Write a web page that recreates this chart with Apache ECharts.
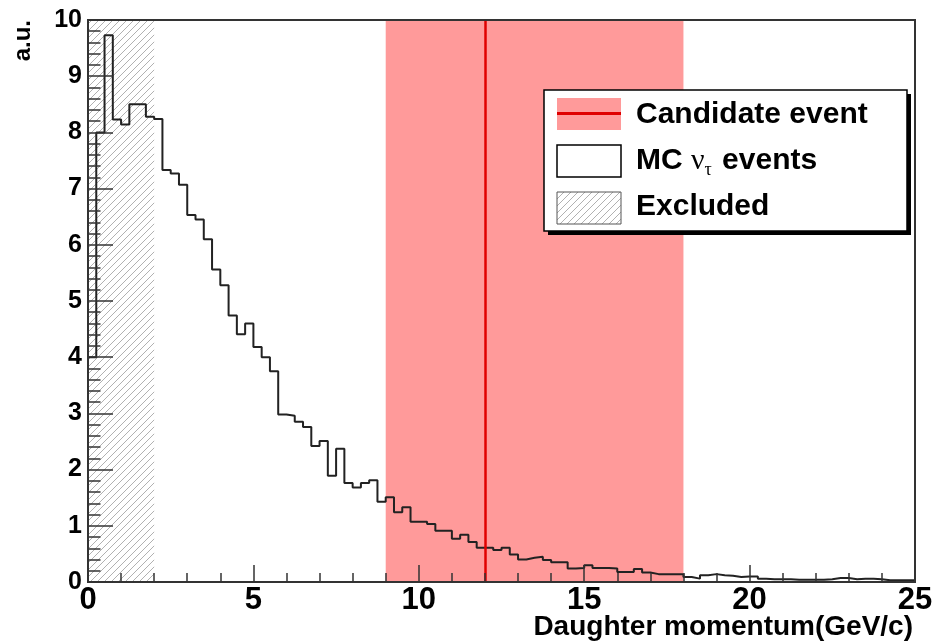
<!DOCTYPE html>
<html><head><meta charset="utf-8">
<script src="https://cdn.jsdelivr.net/npm/echarts@6/dist/echarts.min.js"></script>
<style>html,body{margin:0;padding:0;background:#fff}#c{width:937px;height:643px}</style>
</head><body><div id="c"></div>
<script>
// ---- data ----
const binStart = 0;
const binWidth = 0.25;
const mcCounts = [
  4.0, 8.0, 9.73, 8.23, 8.14, 8.5, 8.5, 8.28, 8.24, 7.33, 7.27, 7.07, 6.53, 6.45, 6.1, 5.56, 5.28, 4.74, 4.41, 4.6,
  4.18, 4.0, 3.75, 2.98, 2.96, 2.85, 2.76, 2.42, 2.51, 1.89, 2.37, 1.76, 1.68, 1.76, 1.81, 1.43, 1.51, 1.24, 1.33, 1.07,
  1.07, 1.03, 0.91, 0.91, 0.77, 0.84, 0.71, 0.61, 0.61, 0.57, 0.61, 0.49, 0.40, 0.43, 0.45, 0.39, 0.35, 0.35, 0.24, 0.25,
  0.30, 0.25, 0.25, 0.24, 0.18, 0.18, 0.23, 0.17, 0.14, 0.14, 0.14, 0.14, 0.09, 0.06, 0.12, 0.14, 0.12, 0.11, 0.09, 0.10,
  0.10, 0.06, 0.05, 0.05, 0.05, 0.04, 0.04, 0.04, 0.04, 0.05, 0.07, 0.07, 0.05, 0.06, 0.06, 0.05, 0.03, 0.03, 0.03, 0.03
];
const candidateMomentum = 12;
const candidateRange = [9, 18];
const excludedRange = [0, 2];
const xRange = [0, 25];
const yRange = [0, 10];
const xTickStep = 5;
const yTickStep = 1;
const xTitle = 'Daughter momentum(GeV/c)';
const yTitle = 'a.u.';
const legendCandidate = 'Candidate event';
const legendMC = ['MC ', 'ν', 'τ', ' events'];
const legendExcluded = 'Excluded';

// ---- build ----
const histData = mcCounts.map((v, i) => [binStart + i * binWidth, v]);
histData.push([binStart + mcCounts.length * binWidth, mcCounts[mcCounts.length - 1]]);

function hatchCanvas() {
  const s = 7;
  const c = document.createElement('canvas');
  c.width = s; c.height = s;
  const g = c.getContext('2d');
  g.fillStyle = '#fff'; g.fillRect(0, 0, s, s);
  g.strokeStyle = '#a8a8a8'; g.lineWidth = 0.9;
  g.beginPath();
  g.moveTo(-1, s + 1); g.lineTo(s + 1, -1);
  g.moveTo(-1, 1); g.lineTo(1, -1);
  g.moveTo(s - 1, s + 1); g.lineTo(s + 1, s - 1);
  g.stroke();
  return c;
}
const hatch = { image: hatchCanvas(), repeat: 'repeat' };
const FONT = '"Liberation Sans", Arial, Helvetica, sans-serif';
const pink = '#ff9a9a';
const red = '#e00000';

const chart = echarts.init(document.getElementById('c'), null, { renderer: 'canvas' });
chart.setOption({
  animation: false,
  backgroundColor: '#fff',
  grid: { left: 88, right: 22, top: 20, bottom: 61, outerBoundsMode: 'none', containLabel: false,
    show: true, borderColor: '#333', borderWidth: 2, backgroundColor: 'transparent', z: 10 },
  xAxis: {
    type: 'value', min: xRange[0], max: xRange[1], interval: xTickStep, z: 10,
    axisLine: { show: true, lineStyle: { color: '#333', width: 2 } },
    axisTick: { show: true, inside: true, length: 17, lineStyle: { color: '#333', width: 1.5 } },
    minorTick: { show: true, splitNumber: 5, length: 9, lineStyle: { color: '#333', width: 1.5 } },
    splitLine: { show: false },
    axisLabel: { color: '#000', fontFamily: FONT, fontWeight: 'bold', fontSize: 31, margin: 3 }
  },
  yAxis: {
    type: 'value', min: yRange[0], max: yRange[1], interval: yTickStep, z: 10,
    axisLine: { show: true, lineStyle: { color: '#333', width: 2 } },
    axisTick: { show: true, inside: true, length: 25, lineStyle: { color: '#333', width: 1.5 } },
    minorTick: { show: true, splitNumber: 5, length: 12.5, lineStyle: { color: '#333', width: 1.5 } },
    splitLine: { show: false },
    axisLabel: { color: '#000', fontFamily: FONT, fontWeight: 'bold', fontSize: 25, margin: 6 }
  },
  series: [
    {
      type: 'line', data: [], silent: true, z: 1,
      markArea: {
        silent: true,
        data: [
          [{ xAxis: excludedRange[0], itemStyle: { color: hatch } }, { xAxis: excludedRange[1] }],
          [{ xAxis: candidateRange[0], itemStyle: { color: pink } }, { xAxis: candidateRange[1] }]
        ]
      }
    },
    {
      name: 'MC', type: 'line', step: 'end', data: histData, showSymbol: false, silent: true, z: 3,
      lineStyle: { color: '#222', width: 2 }
    },
    {
      type: 'line', data: [], silent: true, z: 5,
      markLine: {
        silent: true, symbol: ['none', 'none'], label: { show: false },
        lineStyle: { color: red, width: 2.5, type: 'solid' },
        data: [{ xAxis: candidateMomentum }]
      }
    }
  ],
  graphic: [
    { type: 'text', x: 23, y: 20, rotation: Math.PI / 2, silent: true,
      style: { text: yTitle, fill: '#000', font: 'bold 24px ' + FONT, align: 'right', verticalAlign: 'middle' } },
    { type: 'text', x: 913, y: 627, silent: true,
      style: { text: xTitle, fill: '#000', font: 'bold 28px ' + FONT, align: 'right', verticalAlign: 'middle' } },
    { type: 'rect', z: 100, silent: true, shape: { x: 548, y: 94, width: 363, height: 141 }, style: { fill: '#000' } },
    { type: 'rect', z: 101, silent: true, shape: { x: 544, y: 90, width: 363, height: 141 }, style: { fill: '#fff', stroke: '#000', lineWidth: 1.5 } },
    { type: 'rect', z: 102, silent: true, shape: { x: 557, y: 98, width: 64, height: 32 }, style: { fill: pink } },
    { type: 'line', z: 103, silent: true, shape: { x1: 557, y1: 113.5, x2: 621, y2: 113.5 }, style: { stroke: red, lineWidth: 3 } },
    { type: 'rect', z: 102, silent: true, shape: { x: 557, y: 145, width: 64, height: 32 }, style: { fill: '#fff', stroke: '#000', lineWidth: 1.5 } },
    { type: 'rect', z: 102, silent: true, shape: { x: 557, y: 192, width: 64, height: 32 }, style: { fill: hatch, stroke: '#555', lineWidth: 1 } },
    { type: 'text', z: 103, silent: true, x: 636, y: 115,
      style: { text: legendCandidate, fill: '#000', font: 'bold 30px ' + FONT, verticalAlign: 'middle' } },
    { type: 'text', z: 103, silent: true, x: 636, y: 161,
      style: {
        text: '{b|' + legendMC[0] + '}{n|' + legendMC[1] + '}{s|' + legendMC[2] + '}{b|' + legendMC[3] + '}',
        verticalAlign: 'middle',
        rich: {
          b: { fill: '#000', fontFamily: FONT, fontWeight: 'bold', fontSize: 30, lineHeight: 36, verticalAlign: 'middle' },
          n: { fill: '#000', fontFamily: '"Liberation Serif", "DejaVu Serif", serif', fontSize: 30, lineHeight: 36, verticalAlign: 'middle' },
          s: { fill: '#000', fontFamily: '"Liberation Serif", "DejaVu Serif", serif', fontSize: 18, lineHeight: 36, verticalAlign: 'bottom', padding: [0, 2, 0, 0] }
        }
      } },
    { type: 'text', z: 103, silent: true, x: 636, y: 207,
      style: { text: legendExcluded, fill: '#000', font: 'bold 30px ' + FONT, verticalAlign: 'middle' } }
  ]
});
</script>
</body></html>
